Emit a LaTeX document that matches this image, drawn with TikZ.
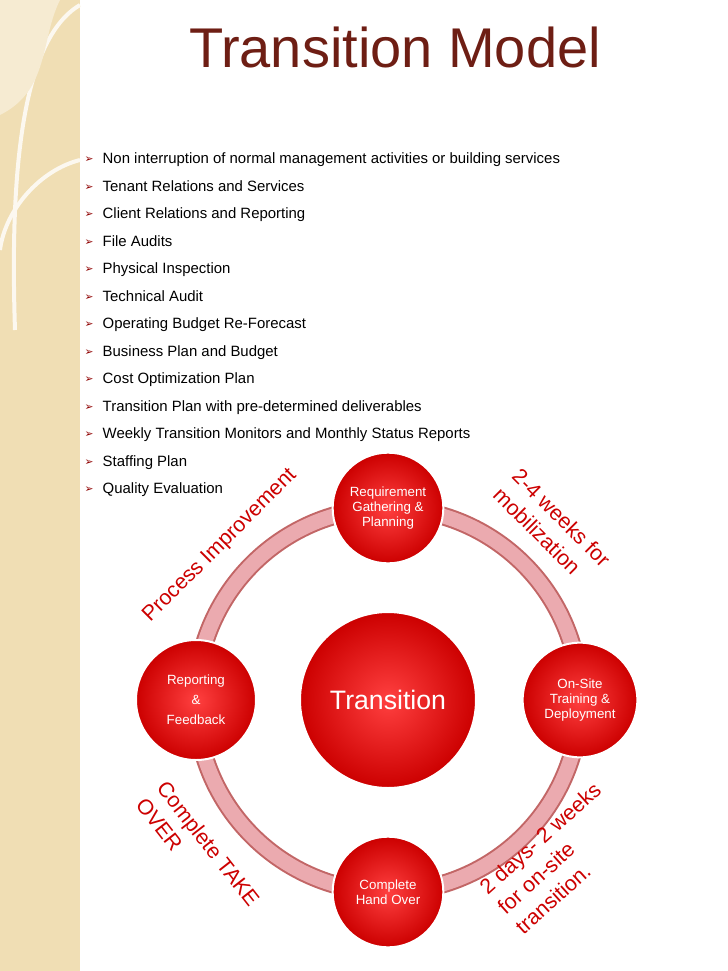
\documentclass[tikz,border=0pt]{standalone}
\usepackage{fontspec}
\setmainfont{Liberation Sans}
\newfontfamily\symfont{DejaVu Sans}
\definecolor{titlebrown}{RGB}{110,30,20}
\definecolor{bandcream}{RGB}{240,222,180}
\definecolor{ringpink}{RGB}{235,170,175}
\definecolor{noted}{RGB}{204,0,0}
\begin{document}
\begin{tikzpicture}[x=0.75pt,y=-0.75pt]
  \tikzset{phase/.style={circle, draw=white, line width=1.5pt, inner sep=0pt,
      shading=radial, inner color=red!75, outer color=red!80!black,
      text=white, align=center, font=\fontsize{10}{11}\selectfont},
    bullet/.style={anchor=west, text height=8pt, text depth=2.5pt, font=\fontsize{11.2}{13}\selectfont},
    note/.style={text=noted, align=left, font=\fontsize{16}{20}\selectfont}}
  \useasboundingbox (0,0) rectangle (728,971);
  % side band
  \fill[bandcream] (0,0) rectangle (80,971);
  \draw[white!80!bandcream, line width=3pt] (80,5) .. controls (20,40) and (10,180) .. (15,330);
  \draw[white!80!bandcream, line width=3pt] (80,160) .. controls (40,170) and (5,210) .. (0,250);
  \fill[white!40!bandcream] (0,0) -- (60,0) .. controls (40,40) and (50,90) .. (0,115) -- cycle;
  % title
  \node[text=titlebrown, font=\fontsize{42}{44}\selectfont] (title) at (395,47) {Transition Model};
  % bullet list
  \foreach \txt [count=\i] in {Non interruption of normal management activities or building services,
      Tenant Relations and Services, Client Relations and Reporting, File Audits,
      Physical Inspection, Technical Audit, Operating Budget Re-Forecast,
      Business Plan and Budget, Cost Optimization Plan,
      Transition Plan with pre-determined deliverables,
      Weekly Transition Monitors and Monthly Status Reports, Staffing Plan, Quality Evaluation}
  {
    \node[text=noted!70!black, font=\symfont\fontsize{8}{9}\selectfont] (mark\i) at (89,{160+(\i-1)*27.5}) {➢};
    \node[bullet] (item\i) at (98,{160+(\i-1)*27.5}) {\txt};
  }
  % ring
  \draw[red!60!black!60, line width=14pt] (388,700) circle[radius=192];
  \draw[ringpink, line width=11pt] (388,700) circle[radius=192];
  % phases
  \node[phase, minimum size=132pt, font=\fontsize{20}{22}\selectfont] (core) at (388,700) {Transition};
  \node[phase, minimum size=83pt] (plan) at (388,508) {Requirement\\Gathering \&\\Planning};
  \node[phase, minimum size=86pt] (train) at (580,700) {On-Site\\Training \&\\Deployment};
  \node[phase, minimum size=83pt] (hand) at (388,892) {Complete\\Hand Over};
  \node[phase, minimum size=90pt, font=\fontsize{10}{15}\selectfont] (report) at (196,700) {Reporting\\\&\\Feedback};
  % notes
  \node[note, rotate=45] (improve) at (220,546) {Process Improvement};
  \node[note, rotate=-45] (mobil) at (552,527) {2-4 weeks for\\mobilization};
  \node[note, rotate=-52] (takeover) at (198,852) {Complete TAKE\\OVER};
  \node[note, rotate=42] (onsite) at (558,858) {2 days- 2 weeks\\for on-site\\transition.};
\end{tikzpicture}
\end{document}
